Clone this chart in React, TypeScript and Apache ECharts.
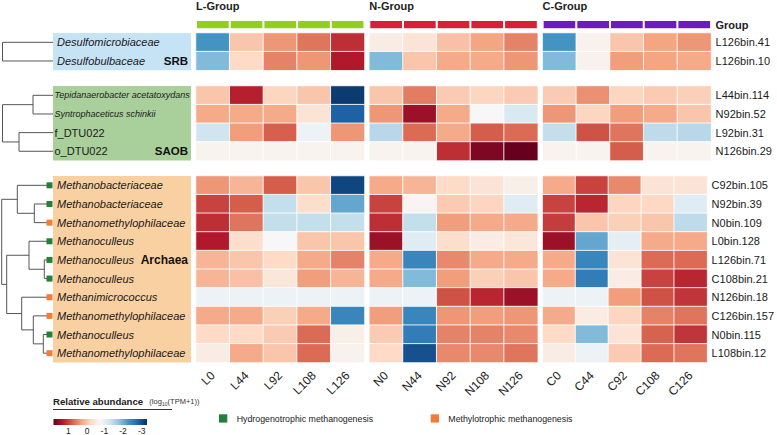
import React, { useEffect, useRef } from 'react';
import * as echarts from 'echarts';

const FONT = '"Liberation Sans", Arial, Helvetica, sans-serif';

// ---------- data ----------
const GROUP_NAMES = ['L-Group', 'N-Group', 'C-Group'];
const GROUP_COLORS = ['#92cf1c', '#d71f37', '#6b1cbf'];
const SAMPLES_L = ['L0', 'L44', 'L92', 'L108', 'L126'];
const SAMPLES_N = ['N0', 'N44', 'N92', 'N108', 'N126'];
const SAMPLES_C = ['C0', 'C44', 'C92', 'C108', 'C126'];

const SRB_TAXA = ['Desulfomicrobiaceae', 'Desulfobulbaceae'];
const SRB_BINS = ['L126bin.41', 'L126bin.10'];
const SRB_L = [[-2.2, 0.0, 0.4, 0.65, 1.15], [-1.8, -0.2, 0.55, 0.4, 1.3]];
const SRB_N = [[-0.5, -0.35, 0.05, 0.3, 0.55], [-1.8, 0.0, 0.25, 0.25, 0.4]];
const SRB_C = [[-2.2, -0.6, 0.0, 0.3, 0.4], [-1.8, -0.6, 0.35, 0.3, 0.25]];

const SAOB_TAXA = ['Tepidanaerobacter acetatoxydans', 'Syntrophaceticus schinkii', 'f_DTU022', 'o_DTU022'];
const SAOB_BINS = ['L44bin.114', 'N92bin.52', 'L92bin.31', 'N126bin.29'];
const SAOB_L = [
  [0.0, 1.25, -0.15, 0.0, -3.1],
  [0.25, 0.25, 0.25, -0.35, -2.75],
  [-1.2, 0.35, 0.8, -0.85, 0.4],
  [-0.62, -0.62, -0.62, -0.62, -0.62],
];
const SAOB_N = [
  [0.0, 0.6, -0.05, -0.15, -0.05],
  [0.4, 1.45, 0.25, -0.7, -1.1],
  [-1.4, 0.72, 0.25, 0.82, 0.72],
  [-0.62, -0.62, 1.15, 1.65, 1.8],
];
const SAOB_C = [
  [-0.05, 0.45, -0.15, -0.05, -0.1],
  [0.4, -0.15, 0.35, 0.25, 0.0],
  [-1.3, 0.9, 0.65, -1.35, -1.4],
  [-0.62, -0.62, 0.82, -0.62, -0.62],
];

const ARC_TAXA = [
  'Methanobacteriaceae', 'Methanobacteriaceae', 'Methanomethylophilaceae', 'Methanoculleus',
  'Methanoculleus', 'Methanoculleus', 'Methanimicrococcus', 'Methanomethylophilaceae',
  'Methanoculleus', 'Methanomethylophilaceae',
];
const ARC_BINS = [
  'C92bin.105', 'N92bin.39', 'N0bin.109', 'L0bin.128', 'L126bin.71',
  'C108bin.21', 'N126bin.18', 'C126bin.157', 'N0bin.115', 'L108bin.12',
];
// H = hydrogenotrophic, M = methylotrophic
const ARC_TYPE = ['H', 'H', 'M', 'H', 'H', 'H', 'M', 'M', 'H', 'M'];
const ARC_L = [
  [0.4, 0.15, 0.82, 0.0, -3.0],
  [1.0, 0.82, -1.3, -0.25, -2.0],
  [1.15, 0.65, -1.3, -1.3, -1.3],
  [1.3, -0.25, -0.7, 0.0, 0.0],
  [0.15, 0.0, -0.2, 0.25, 0.55],
  [0.15, 0.05, -0.4, 0.35, 0.15],
  [-0.85, -0.85, -0.85, -0.85, -0.85],
  [0.25, 0.25, -0.1, 0.25, -2.35],
  [-0.2, -0.2, -0.05, 0.72, -0.55],
  [-0.5, 0.25, 0.0, 0.72, -0.6],
];
const ARC_N = [
  [0.25, 0.15, -0.2, -0.35, -0.55],
  [1.0, -0.65, -0.05, -0.15, -1.0],
  [1.15, -1.3, 0.35, 0.25, 0.25],
  [1.45, -1.0, -0.25, -0.5, -0.4],
  [0.25, -2.35, 0.5, 0.25, 0.25],
  [0.25, -1.8, 0.35, -0.1, 0.0],
  [-0.85, -0.85, 0.9, 1.2, 1.45],
  [0.35, -2.35, 0.4, 0.35, 0.4],
  [-0.05, -2.45, 0.55, 0.55, 0.5],
  [-0.2, -2.9, 0.5, 0.5, 0.65],
];
const ARC_C = [
  [0.25, 1.0, 0.5, -0.35, -0.35],
  [1.0, 1.2, -0.15, -0.18, -1.0],
  [1.05, 0.0, -0.1, 0.0, -1.35],
  [1.45, -2.0, -0.95, 0.25, 0.25],
  [0.25, -2.35, -0.35, 0.72, 0.72],
  [0.25, -2.45, -0.5, 1.0, 1.2],
  [-0.85, -0.85, 0.35, 0.9, 1.1],
  [0.25, -0.5, -0.15, 0.55, 0.65],
  [-0.2, -1.8, -0.35, 0.78, 1.1],
  [-0.5, -0.85, -0.05, 0.72, 0.65],
];

const SCALE_MIN = -3.2;
const SCALE_MAX = 1.8;
const SCALE_TICKS = [1, 0, -1, -2, -3];
// RdBu from low (blue) to high (red)
const RDBU = ['#053061', '#2166ac', '#4393c3', '#92c5de', '#d1e5f0', '#f7f7f7', '#fddbc7', '#f4a582', '#d6604d', '#b2182b', '#67001f'];

// ---------- layout ----------
const COL_LEFTS = [196, 369.3, 542.6];
const GROUP_W = 168.5;
const ROW_H = 18.65;
const BLOCK_TOPS = [33, 86, 176];
const LEAF_X = 53;

function buildOption() {
  const samples = [SAMPLES_L, SAMPLES_N, SAMPLES_C];
  const blocks = [
    { taxa: SRB_TAXA, bins: SRB_BINS, vals: [SRB_L, SRB_N, SRB_C], styles: ['i', 'i'], margin: 139 },
    { taxa: SAOB_TAXA, bins: SAOB_BINS, vals: [SAOB_L, SAOB_N, SAOB_C], styles: ['s', 's', 'n', 'n'], margin: 141.5 },
    { taxa: ARC_TAXA, bins: ARC_BINS, vals: [ARC_L, ARC_N, ARC_C], styles: ARC_TAXA.map(() => 'i'), margin: 139 },
  ];

  const grid: any[] = [];
  const xAxis: any[] = [];
  const yAxis: any[] = [];
  const series: any[] = [];
  const heatIdx: number[] = [];

  blocks.forEach((blk, b) => {
    const n = blk.taxa.length;
    for (let g = 0; g < 3; g++) {
      const idx = grid.length;
      grid.push({ left: COL_LEFTS[g], top: BLOCK_TOPS[b], width: GROUP_W, height: ROW_H * n });
      xAxis.push({
        type: 'category', gridIndex: idx, data: samples[g],
        axisLine: { show: false }, axisTick: { show: false }, splitLine: { show: false },
        axisLabel: b === 2
          ? { show: true, rotate: 45, interval: 0, fontSize: 12, margin: 11, color: '#222', fontFamily: FONT }
          : { show: false },
      });
      const yLabel: any = { show: false };
      if (g === 0) {
        Object.assign(yLabel, {
          show: true, interval: 0, align: 'left', margin: blk.margin,
          formatter: (v: string, i: number) => `{${blk.styles[i]}|${v}}`,
          rich: {
            i: { fontSize: 11, fontStyle: 'italic', fontFamily: FONT, color: '#1a1a1a' },
            s: { fontSize: 9, fontStyle: 'italic', fontFamily: FONT, color: '#1a1a1a' },
            n: { fontSize: 11, fontFamily: FONT, color: '#1a1a1a' },
          },
        });
      } else if (g === 2) {
        Object.assign(yLabel, { show: true, interval: 0, margin: 4.5, fontSize: 11, color: '#1a1a1a', fontFamily: FONT });
      }
      yAxis.push({
        type: 'category', gridIndex: idx, inverse: true,
        data: g === 2 ? blk.bins : blk.taxa,
        position: g === 2 ? 'right' : 'left',
        axisLine: { show: false }, axisTick: { show: false }, splitLine: { show: false },
        axisLabel: yLabel,
      });
      const data: any[] = [];
      blk.vals[g].forEach((row, r) => row.forEach((v, c) => data.push([c, r, v])));
      heatIdx.push(series.length);
      series.push({
        type: 'heatmap', xAxisIndex: idx, yAxisIndex: idx, data,
        itemStyle: { borderColor: 'rgba(255,255,255,0.85)', borderWidth: 1 },
        emphasis: { disabled: true },
      });
    }
  });

  // group colour bars
  for (let g = 0; g < 3; g++) {
    const idx = grid.length;
    grid.push({ left: COL_LEFTS[g], top: 20, width: GROUP_W, height: 9.3 });
    xAxis.push({ type: 'category', gridIndex: idx, data: samples[g], show: false });
    yAxis.push({ type: 'value', gridIndex: idx, min: 0, max: 1, show: false });
    series.push({
      type: 'bar', xAxisIndex: idx, yAxisIndex: idx, data: samples[g].map(() => 1),
      barWidth: '100%', itemStyle: { color: GROUP_COLORS[g], borderColor: '#fff', borderWidth: 1 },
      emphasis: { disabled: true },
    });
  }

  // ---------- graphics ----------
  const gfx: any[] = [];
  const rowY = (b: number, i: number) => BLOCK_TOPS[b] + (i + 0.5) * ROW_H;
  const boxColors = ['#c6e3f6', '#a9d09b', '#f9d0a2'];
  blocks.forEach((blk, b) => {
    gfx.push({
      type: 'rect', z: -5, silent: true,
      shape: { x: LEAF_X, y: BLOCK_TOPS[b], width: 138, height: ROW_H * blk.taxa.length },
      style: { fill: boxColors[b] },
    });
  });

  const lineStyle = { stroke: '#555', lineWidth: 1, fill: null };
  const pl = (pts: number[][]) => gfx.push({ type: 'polyline', silent: true, shape: { points: pts }, style: lineStyle });

  // block 1
  {
    const y0 = rowY(0, 0), y1 = rowY(0, 1);
    pl([[LEAF_X, y0], [2.5, y0], [2.5, y1], [LEAF_X, y1]]);
  }
  // block 2
  {
    const y = [0, 1, 2, 3].map((i) => rowY(1, i));
    pl([[LEAF_X, y[0]], [33, y[0]], [33, y[1]], [LEAF_X, y[1]]]);
    pl([[LEAF_X, y[2]], [19, y[2]], [19, y[3]], [LEAF_X, y[3]]]);
    const m01 = (y[0] + y[1]) / 2, m23 = (y[2] + y[3]) / 2;
    pl([[33, m01], [2.5, m01], [2.5, m23], [19, m23]]);
  }
  // block 3
  {
    const L = 47;
    const y = ARC_TAXA.map((_, i) => rowY(2, i));
    pl([[L, y[1]], [34.3, y[1]], [34.3, y[2]], [L, y[2]]]);
    const mA = (y[1] + y[2]) / 2;
    pl([[L, y[0]], [17.3, y[0]], [17.3, mA], [34.3, mA]]);
    const mB = (y[0] + mA) / 2;
    pl([[L, y[4]], [44.3, y[4]], [44.3, y[5]], [L, y[5]]]);
    const mC = (y[4] + y[5]) / 2;
    pl([[L, y[3]], [29, y[3]], [29, mC], [44.3, mC]]);
    const mD = (y[3] + mC) / 2;
    pl([[L, y[8]], [43.3, y[8]], [43.3, y[9]], [L, y[9]]]);
    const mE = (y[8] + y[9]) / 2;
    pl([[L, y[7]], [33.3, y[7]], [33.3, mE], [43.3, mE]]);
    const mF = (y[7] + mE) / 2;
    pl([[L, y[6]], [21.7, y[6]], [21.7, mF], [33.3, mF]]);
    const mG = (y[6] + mF) / 2;
    pl([[29, mD], [6.7, mD], [6.7, mG], [21.7, mG]]);
    const mH = (mD + mG) / 2;
    pl([[17.3, mB], [1.7, mB], [1.7, mH], [6.7, mH]]);
    ARC_TYPE.forEach((t, i) => {
      gfx.push({
        type: 'rect', silent: true,
        shape: { x: 46.5, y: y[i] - 3, width: 6, height: 6 },
        style: { fill: t === 'H' ? '#23803a' : '#f47c3a' },
      });
    });
  }

  const txt = (text: string, x: number, y: number, font: string, align = 'left', fill = '#1a1a1a') =>
    gfx.push({ type: 'text', silent: true, x, y, style: { text, font, fill, textAlign: align, textVerticalAlign: 'middle' } });

  // block labels
  txt('SRB', 188, rowY(0, 1), `bold 11.5px ${FONT}`, 'right', '#111');
  txt('SAOB', 188, rowY(1, 3), `bold 11.5px ${FONT}`, 'right', '#111');
  txt('Archaea', 188, rowY(2, 4) + 0.5, `bold 12px ${FONT}`, 'right', '#111');

  // group titles
  GROUP_NAMES.forEach((nm, g) => txt(nm, COL_LEFTS[g], 5.8, `bold 11px ${FONT}`, 'left', '#222'));
  txt('Group', 715.5, 25, `bold 11px ${FONT}`, 'left', '#222');

  // legend: relative abundance
  txt('Relative abundance', 53, 401, `bold 9.6px ${FONT}`, 'left', '#222');
  txt('(log', 149.3, 401.5, `7.5px ${FONT}`, 'left', '#333');
  txt('10', 161.9, 403.5, `5px ${FONT}`, 'left', '#333');
  txt('(TPM+1))', 167.6, 401.5, `7.5px ${FONT}`, 'left', '#333');
  gfx.push({ type: 'line', silent: true, shape: { x1: 53, y1: 409.5, x2: 172, y2: 409.5 }, style: { stroke: '#333', lineWidth: 1 } });

  const CB_X = 53.5, CB_W = 93.5, CB_Y = 419, CB_H = 6;
  const stops = RDBU.slice().reverse().map((c, i) => ({ offset: i / (RDBU.length - 1), color: c }));
  gfx.push({
    type: 'rect', silent: true,
    shape: { x: CB_X, y: CB_Y, width: CB_W, height: CB_H },
    style: { fill: new echarts.graphic.LinearGradient(0, 0, 1, 0, stops) },
  });
  SCALE_TICKS.forEach((t) => {
    const x = CB_X + ((SCALE_MAX - t) / (SCALE_MAX - SCALE_MIN)) * CB_W;
    txt(String(t), x - (t < 0 ? 1.5 : 0), 430.5, `8.5px ${FONT}`, 'center', '#222');
  });

  // legend: methanogenesis types
  gfx.push({ type: 'rect', silent: true, shape: { x: 219, y: 414.3, width: 8.3, height: 8.3 }, style: { fill: '#23803a' } });
  txt('Hydrogenotrophic methanogenesis', 236.7, 418.5, `8.8px ${FONT}`, 'left', '#222');
  gfx.push({ type: 'rect', silent: true, shape: { x: 430.7, y: 414.3, width: 8.3, height: 8.3 }, style: { fill: '#f47c3a' } });
  txt('Methylotrophic methanogenesis', 448.3, 418.5, `8.8px ${FONT}`, 'left', '#222');

  return {
    animation: false,
    backgroundColor: '#fff',
    textStyle: { fontFamily: FONT },
    grid, xAxis, yAxis, series,
    visualMap: {
      type: 'continuous', show: false, min: SCALE_MIN, max: SCALE_MAX,
      seriesIndex: heatIdx, inRange: { color: RDBU },
    },
    graphic: { elements: gfx },
  };
}

export default function App() {
  const ref = useRef<HTMLDivElement>(null);
  useEffect(() => {
    const chart = echarts.init(ref.current as HTMLDivElement, null, { renderer: 'svg' });
    chart.setOption(buildOption() as any);
    return () => chart.dispose();
  }, []);
  return (
    <div
      ref={ref}
      style={{ position: 'fixed', left: 0, top: 0, width: 777, height: 435, background: '#fff' }}
    />
  );
}
